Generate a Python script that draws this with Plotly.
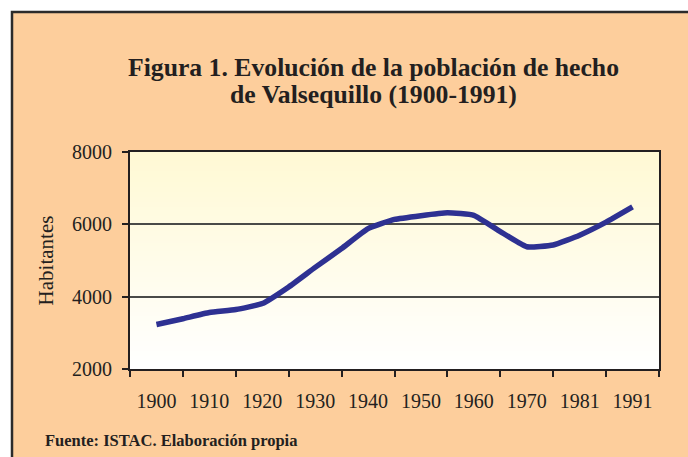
import base64
import struct
import zlib

import plotly.graph_objects as go

# ---------------- data ----------------
# population every 5 years (index positions on a category-like axis)
point_index = list(range(19))
habitantes = [3230, 3390, 3560, 3645, 3810, 4270, 4810, 5330, 5880, 6135,
              6240, 6320, 6250, 5800, 5380, 5430, 5700, 6060, 6480]
label_positions = [0, 2, 4, 6, 8, 10, 12, 14, 16, 18]
year_labels = ["1900", "1910", "1920", "1930", "1940", "1950", "1960",
               "1970", "1981", "1991"]

TITLE_LINE1 = "Figura 1. Evolución de la población de hecho"
TITLE_LINE2 = "de Valsequillo (1900-1991)"
Y_TITLE = "Habitantes"
SOURCE = "Fuente: ISTAC. Elaboración propia"

# ---------------- styles ----------------
PEACH = "#FDCE9C"
LINE_BLUE = "#2E3192"
DARK = "#231F20"
SERIF = "Liberation Serif, Times New Roman, serif"

L, R, T, B = 130, 29, 152, 88
PW, PH = 688 - L - R, 457 - T - B


def px_x(px):
    return (px - L) / PW


def px_y(py):
    return (457 - B - py) / PH


def gradient_png(top, bottom, h=128):
    raw = b""
    for i in range(h):
        t = i / (h - 1)
        rgb = bytes(int(round(top[k] + (bottom[k] - top[k]) * t)) for k in range(3))
        raw += b"\x00" + rgb

    def chunk(tag, data):
        c = struct.pack(">I", len(data)) + tag + data
        return c + struct.pack(">I", zlib.crc32(tag + data) & 0xFFFFFFFF)

    png = b"\x89PNG\r\n\x1a\n"
    png += chunk(b"IHDR", struct.pack(">IIBBBBB", 1, h, 8, 2, 0, 0, 0))
    png += chunk(b"IDAT", zlib.compress(raw))
    png += chunk(b"IEND", b"")
    return "data:image/png;base64," + base64.b64encode(png).decode()


bg_img = gradient_png((255, 249, 212), (255, 255, 255))

fig = go.Figure()
fig.add_trace(go.Scatter(
    x=point_index, y=habitantes, mode="lines",
    line=dict(color=LINE_BLUE, width=5.5, shape="spline", smoothing=0.4),
    hoverinfo="x+y", showlegend=False,
))

fig.update_layout(
    width=688, height=457,
    margin=dict(l=L, r=R, t=T, b=B),
    paper_bgcolor="white",
    plot_bgcolor="white",
    font=dict(family=SERIF, color=DARK, size=20),
    xaxis=dict(
        range=[-1, 19], tickvals=label_positions, ticktext=year_labels,
        ticks="", showline=True, linecolor=DARK, linewidth=2, mirror=True,
        showgrid=False, zeroline=False, ticklabelstandoff=13,
        tickfont=dict(size=20),
        minor=dict(ticks="outside", tick0=-1, dtick=2, ticklen=6,
                   tickcolor=DARK, tickwidth=2, showgrid=False),
    ),
    yaxis=dict(
        range=[2000, 8000], dtick=2000, ticks="outside", ticklen=6,
        tickcolor=DARK, tickwidth=2, showline=True, linecolor=DARK,
        linewidth=2, mirror=True, showgrid=True, gridcolor="#4A4A48",
        gridwidth=1.5, zeroline=False, tickfont=dict(size=20),
        ticklabelstandoff=6,
        title=dict(text=Y_TITLE, standoff=13, font=dict(size=21)),
    ),
    images=[dict(source=bg_img, xref="x domain", yref="y domain", x=0, y=1,
                 sizex=1, sizey=1, sizing="stretch", xanchor="left",
                 yanchor="top", layer="below")],
    shapes=[dict(type="rect", xref="paper", yref="paper",
                 x0=px_x(12), x1=2.0, y0=-2.0, y1=px_y(12),
                 fillcolor=PEACH, line=dict(color="#2B2B2B", width=2.5),
                 layer="below")],
    annotations=[
        dict(text="<b>" + TITLE_LINE1 + "</b>", xref="paper", yref="paper",
             x=px_x(373), y=px_y(68), xanchor="center", yanchor="middle",
             showarrow=False, font=dict(family=SERIF, size=25.7, color=DARK)),
        dict(text="<b>" + TITLE_LINE2 + "</b>", xref="paper", yref="paper",
             x=px_x(373), y=px_y(95), xanchor="center", yanchor="middle",
             showarrow=False, font=dict(family=SERIF, size=25.7, color=DARK)),
        dict(text="<b>" + SOURCE + "</b>", xref="paper", yref="paper",
             x=px_x(43), y=px_y(440), xanchor="left", yanchor="middle",
             showarrow=False, font=dict(family=SERIF, size=16.5, color=DARK)),
    ],
)

fig.write_html("out.html",
               config={"displayModeBar": False},
               post_script="document.body.style.margin='0';")
